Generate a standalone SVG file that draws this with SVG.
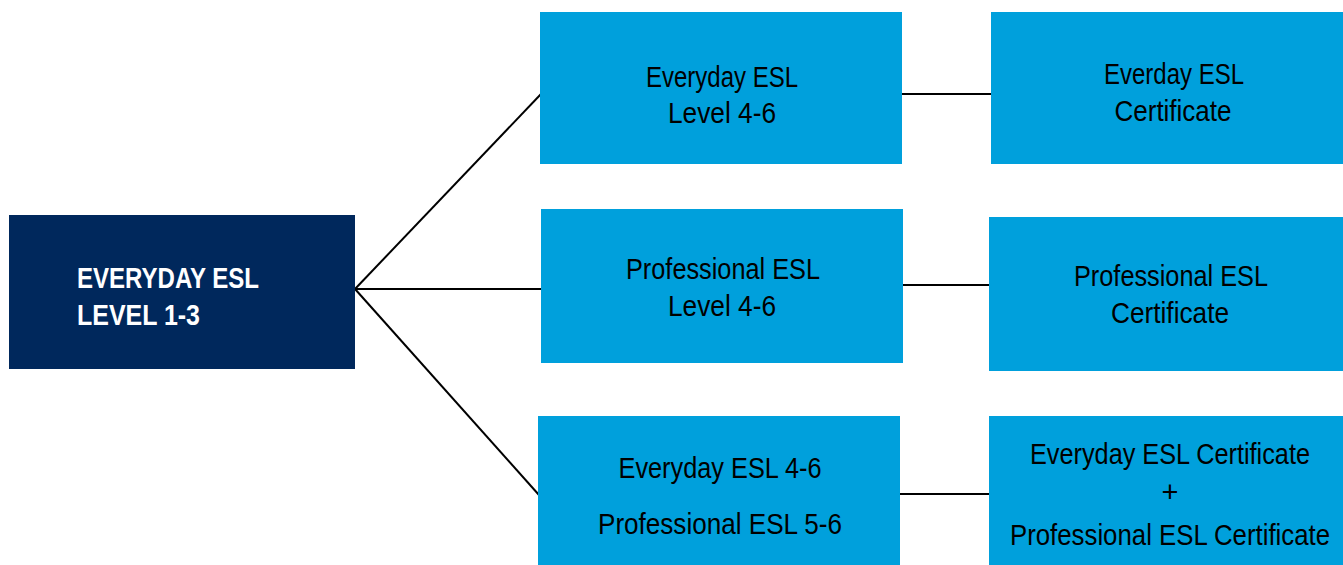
<svg xmlns="http://www.w3.org/2000/svg" width="1343" height="565" viewBox="0 0 1343 565">
<style>
.blue{fill:#00A0DC}
.navy{fill:#00285C}
.t{font-family:"Liberation Sans",Arial,sans-serif;font-size:29px;fill:#000;text-anchor:middle}
.w{font-family:"Liberation Sans",Arial,sans-serif;font-size:30px;fill:#fff;font-weight:bold}
.c{stroke:#000;stroke-width:2;fill:none}
</style>
<rect width="1343" height="565" fill="#fff"/>
<g id="connectors">
<line class="c" x1="355" y1="289" x2="541" y2="94"/>
<line class="c" x1="355" y1="289" x2="541" y2="289"/>
<line class="c" x1="355" y1="289" x2="539" y2="495"/>
<line class="c" x1="902" y1="94" x2="991" y2="94"/>
<line class="c" x1="903" y1="285" x2="989" y2="285"/>
<line class="c" x1="900" y1="494" x2="989" y2="494"/>
</g>
<g id="root">
<rect class="navy" x="9" y="215" width="346" height="154"/>
<text class="w" x="77" y="288" textLength="182" lengthAdjust="spacingAndGlyphs">EVERYDAY ESL</text>
<text class="w" x="77" y="325" textLength="123" lengthAdjust="spacingAndGlyphs">LEVEL 1-3</text>
</g>
<g id="everyday46">
<rect class="blue" x="540" y="12" width="362" height="152"/>
<text class="t" x="722" y="87" textLength="152" lengthAdjust="spacingAndGlyphs">Everyday ESL</text>
<text class="t" x="722" y="123" textLength="108" lengthAdjust="spacingAndGlyphs">Level 4-6</text>
</g>
<g id="everydayCert">
<rect class="blue" x="991" y="12" width="352" height="152"/>
<text class="t" x="1174" y="84" textLength="140" lengthAdjust="spacingAndGlyphs">Everday ESL</text>
<text class="t" x="1173" y="121" textLength="117" lengthAdjust="spacingAndGlyphs">Certificate</text>
</g>
<g id="professional46">
<rect class="blue" x="541" y="209" width="362" height="154"/>
<text class="t" x="723" y="279" textLength="194" lengthAdjust="spacingAndGlyphs">Professional ESL</text>
<text class="t" x="722" y="316" textLength="108" lengthAdjust="spacingAndGlyphs">Level 4-6</text>
</g>
<g id="professionalCert">
<rect class="blue" x="989" y="217" width="354" height="154"/>
<text class="t" x="1171" y="286" textLength="194" lengthAdjust="spacingAndGlyphs">Professional ESL</text>
<text class="t" x="1170" y="323" textLength="118" lengthAdjust="spacingAndGlyphs">Certificate</text>
</g>
<g id="combined">
<rect class="blue" x="538" y="416" width="362" height="149"/>
<text class="t" x="720" y="478" textLength="203" lengthAdjust="spacingAndGlyphs">Everyday ESL 4-6</text>
<text class="t" x="720" y="534" textLength="244" lengthAdjust="spacingAndGlyphs">Professional ESL 5-6</text>
</g>
<g id="combinedCert">
<rect class="blue" x="989" y="416" width="354" height="149"/>
<text class="t" x="1170" y="464" textLength="280" lengthAdjust="spacingAndGlyphs">Everyday ESL Certificate</text>
<text class="t" x="1170" y="502">+</text>
<text class="t" x="1170" y="545" textLength="320" lengthAdjust="spacingAndGlyphs">Professional ESL Certificate</text>
</g>
</svg>
